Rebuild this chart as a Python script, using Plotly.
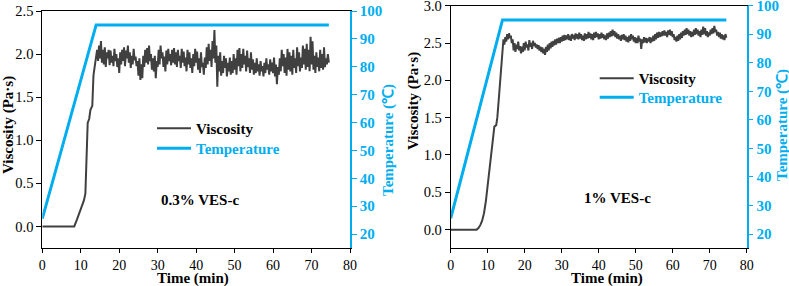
import numpy as np
import plotly.graph_objects as go

# ---------------- data ----------------
temp_time = [0, 14, 74.5]
temp_values = [25.5, 95, 95]

ramp_time_a = [0, 8.3, 9, 10, 10.8, 11.2, 11.5, 11.8, 12.2, 12.5, 13, 13.3, 13.6, 14]
ramp_visc_a = [0, 0, 0.08, 0.2, 0.3, 0.38, 0.8, 1.2, 1.25, 1.35, 1.4, 1.75, 1.85, 1.95]

plateau_visc_a = [
    2.05, 1.92, 2.10, 1.95, 2.15, 1.90, 2.05, 1.88, 2.08, 1.85, 2.02, 1.95, 2.05, 1.87, 2.04, 1.90, 1.98, 1.86, 2.06, 1.92,
    2.00, 1.85, 1.95, 1.78, 2.02, 1.88, 2.05, 1.92, 2.08, 1.86, 2.04, 1.95, 2.10, 1.90, 2.02, 1.84, 1.98, 1.88, 2.06, 1.93,
    1.97, 1.86, 1.92, 1.75, 1.95, 1.70, 1.88, 1.72, 1.98, 1.85, 2.05, 1.90, 2.07, 1.88, 2.10, 1.92, 2.00, 1.82, 1.95, 1.80,
    1.98, 1.72, 1.92, 1.85, 2.05, 1.88, 2.10, 1.95, 2.02, 1.85, 1.97, 1.80, 2.04, 1.88, 2.06, 1.92, 2.00, 1.87, 2.05, 1.90,
    2.07, 1.88, 2.02, 1.85, 2.05, 1.92, 1.98, 1.84, 2.06, 1.90, 2.03, 1.86, 1.96, 1.80, 2.05, 1.88, 2.02, 1.84, 1.95, 1.78,
    2.00, 1.86, 2.06, 1.90, 2.03, 1.82, 1.95, 1.78, 2.02, 1.85, 1.90, 1.76, 1.96, 1.84, 2.08, 1.88, 2.12, 1.92, 2.05, 1.85,
    2.15, 1.95, 2.28, 1.90, 2.10, 1.62, 1.98, 1.80, 2.02, 1.75, 1.92, 1.78, 1.98, 1.84, 1.95, 1.74, 1.90, 1.80, 1.96, 1.76,
    1.92, 1.78, 2.00, 1.82, 1.95, 1.76, 2.05, 1.86, 2.07, 1.80, 2.00, 1.84, 2.06, 1.88, 1.98, 1.80, 2.04, 1.85, 1.95, 1.78,
    2.02, 1.82, 1.94, 1.76, 1.90, 1.78, 1.95, 1.80, 1.88, 1.75, 1.92, 1.80, 1.86, 1.74, 1.90, 1.78, 1.95, 1.82, 1.88, 1.76,
    1.94, 1.80, 1.90, 1.78, 1.96, 1.74, 1.88, 1.65, 1.85, 1.76, 1.95, 1.80, 2.05, 1.86, 2.00, 1.78, 1.96, 1.75, 2.06, 1.82,
    2.02, 1.80, 1.98, 1.76, 2.05, 1.84, 1.95, 1.78, 2.08, 1.86, 2.02, 1.80, 1.96, 1.84, 2.10, 1.88, 2.06, 1.82, 2.12, 1.85,
    2.05, 1.80, 2.20, 1.88, 2.15, 1.82, 1.98, 1.78, 2.02, 1.85, 1.96, 1.80, 2.05, 1.84, 2.00, 1.82, 2.08, 1.85, 1.95, 1.88,
    2.00, 1.90,
]

ramp_time_b = [0, 7, 7.5, 8, 8.5, 9, 9.5, 10, 10.5, 11, 11.5, 11.8, 12.3, 12.6, 13, 13.4, 13.7, 14]
ramp_visc_b = [0, 0, 0.02, 0.06, 0.12, 0.22, 0.38, 0.6, 0.8, 1.0, 1.2, 1.38, 1.4, 1.5, 1.75, 2.0, 2.3, 2.5]

plateau_visc_b = [
    2.55, 2.48, 2.58, 2.52, 2.62, 2.55, 2.63, 2.57, 2.60, 2.50, 2.55, 2.40, 2.50, 2.38, 2.48, 2.42, 2.52, 2.40, 2.46, 2.36,
    2.45, 2.38, 2.50, 2.40, 2.52, 2.44, 2.48, 2.40, 2.54, 2.45, 2.50, 2.42, 2.53, 2.46, 2.50, 2.44, 2.48, 2.42, 2.47, 2.40,
    2.45, 2.38, 2.44, 2.36, 2.42, 2.34, 2.45, 2.38, 2.48, 2.40, 2.50, 2.43, 2.52, 2.45, 2.53, 2.47, 2.55, 2.48, 2.56, 2.50,
    2.57, 2.50, 2.58, 2.52, 2.60, 2.53, 2.61, 2.54, 2.60, 2.55, 2.62, 2.54, 2.60, 2.53, 2.62, 2.56, 2.61, 2.54, 2.63, 2.56,
    2.62, 2.55, 2.64, 2.56, 2.62, 2.54, 2.60, 2.53, 2.63, 2.55, 2.62, 2.56, 2.65, 2.57, 2.63, 2.55, 2.62, 2.54, 2.64, 2.57,
    2.65, 2.58, 2.63, 2.55, 2.62, 2.56, 2.64, 2.57, 2.62, 2.55, 2.60, 2.54, 2.63, 2.56, 2.64, 2.58, 2.66, 2.59, 2.68, 2.60,
    2.66, 2.58, 2.64, 2.56, 2.62, 2.55, 2.60, 2.53, 2.61, 2.55, 2.62, 2.54, 2.60, 2.52, 2.58, 2.51, 2.60, 2.53, 2.62, 2.55,
    2.60, 2.52, 2.58, 2.50, 2.57, 2.50, 2.60, 2.52, 2.56, 2.42, 2.55, 2.50, 2.58, 2.51, 2.57, 2.50, 2.56, 2.52, 2.58, 2.50,
    2.57, 2.52, 2.60, 2.53, 2.62, 2.55, 2.64, 2.57, 2.65, 2.58, 2.64, 2.59, 2.66, 2.60, 2.67, 2.60, 2.65, 2.58, 2.67, 2.61,
    2.68, 2.60, 2.66, 2.58, 2.62, 2.54, 2.58, 2.52, 2.60, 2.53, 2.62, 2.55, 2.64, 2.57, 2.66, 2.60, 2.68, 2.61, 2.70, 2.62,
    2.68, 2.60, 2.66, 2.58, 2.65, 2.59, 2.68, 2.61, 2.70, 2.62, 2.68, 2.60, 2.66, 2.58, 2.68, 2.61, 2.72, 2.62, 2.70, 2.60,
    2.66, 2.58, 2.64, 2.60, 2.68, 2.62, 2.70, 2.63, 2.73, 2.65, 2.68, 2.60, 2.65, 2.58, 2.64, 2.56, 2.62, 2.55, 2.60, 2.54,
    2.62, 2.57,
]

plateau_time = list(np.round(np.arange(14.25, 74.51, 0.25), 2))

labels = ["0.3% VES-c", "1% VES-c"]
x_ticks = [0, 10, 20, 30, 40, 50, 60, 70, 80]
temp_ticks = [20, 30, 40, 50, 60, 70, 80, 90, 100]

# ---------------- styling ----------------
W, H = 789, 286
CYAN = "#00AEEF"
GRAY = "#404040"
FONT = "Liberation Serif, Times New Roman, serif"


def px_x(p):
    return p / W


def px_y(p):
    return 1 - p / H


fig = go.Figure()

visc_a_t = ramp_time_a + plateau_time
visc_a_v = ramp_visc_a + plateau_visc_a
visc_b_t = ramp_time_b + plateau_time
visc_b_v = ramp_visc_b + plateau_visc_b

TEMP_NAME = f"<b><span style='color:{CYAN}'>Temperature</span></b>"
fig.add_trace(go.Scatter(x=visc_a_t, y=visc_a_v, mode="lines", name="<b>Viscosity</b>", showlegend=True,
                         line=dict(color=GRAY, width=2), xaxis="x", yaxis="y", legend="legend"))
fig.add_trace(go.Scatter(x=temp_time, y=temp_values, mode="lines", name=TEMP_NAME, showlegend=True,
                         line=dict(color=CYAN, width=3), xaxis="x", yaxis="y2", legend="legend2"))
fig.add_trace(go.Scatter(x=visc_b_t, y=visc_b_v, mode="lines", name="<b>Viscosity</b>", showlegend=True,
                         line=dict(color=GRAY, width=2), xaxis="x2", yaxis="y3", legend="legend3"))
fig.add_trace(go.Scatter(x=temp_time, y=temp_values, mode="lines", name=TEMP_NAME, showlegend=True,
                         line=dict(color=CYAN, width=3), xaxis="x2", yaxis="y4", legend="legend4"))

xdomA = [px_x(42.3), px_x(350)]
ydomA = [px_y(248), px_y(11)]
xdomB = [px_x(450.7), px_x(746.7)]
ydomB = [px_y(248.3), px_y(5.7)]

xaxis_common = dict(range=[0, 80], tickvals=x_ticks, ticks="outside", ticklen=4, tickcolor="black",
                    showline=True, linecolor="black", linewidth=1, mirror=True, showgrid=False,
                    zeroline=False, automargin=False, ticklabeloverflow="allow",
                    tickfont=dict(family=FONT, size=14, color="black"))
visc_common = dict(ticks="outside", ticklen=5, tickcolor="black", showline=True, linecolor="black",
                   linewidth=1, showgrid=False, zeroline=False, tickformat=".1f", dtick=0.5, tick0=0,
                   automargin=False, ticklabeloverflow="allow",
                   tickfont=dict(family=FONT, size=14.5, color="black"))
temp_common = dict(range=[15, 100], tickvals=temp_ticks, ticks="outside",
                   ticklen=5, tickcolor=CYAN, showline=True, linecolor=CYAN, linewidth=1.5, showgrid=False,
                   zeroline=False, side="right", automargin=False, ticklabeloverflow="allow",
                   tickfont=dict(family=FONT, size=15, color=CYAN, weight="bold"))


def legend_at(x, ytop):
    return dict(x=px_x(x), y=px_y(ytop), xanchor="left", yanchor="top", bgcolor="rgba(0,0,0,0)",
                font=dict(family=FONT, size=15, color="black"), itemwidth=34, visible=True)


def text_ann(text, x, y, size=15, color="black", angle=0):
    return dict(text=f"<b>{text}</b>", x=px_x(x), y=px_y(y), xref="paper", yref="paper",
                xanchor="center", yanchor="middle", showarrow=False, textangle=angle,
                font=dict(family=FONT, size=size, color=color))


fig.update_layout(
    width=W, height=H, margin=dict(l=0, r=0, t=0, b=0, pad=0, autoexpand=False),
    paper_bgcolor="white", plot_bgcolor="white", showlegend=True,
    xaxis=dict(domain=xdomA, anchor="y", **xaxis_common),
    yaxis=dict(domain=ydomA, anchor="x", range=[-0.25, 2.5], **visc_common),
    yaxis2=dict(anchor="x", overlaying="y", **temp_common),
    xaxis2=dict(domain=xdomB, anchor="y3", **xaxis_common),
    yaxis3=dict(domain=ydomB, anchor="x2", range=[-0.25, 3.0], **visc_common),
    yaxis4=dict(anchor="x2", overlaying="y3", **temp_common),
    legend=legend_at(152, 112),
    legend2=legend_at(152, 132),
    legend3=legend_at(594.7, 62),
    legend4=legend_at(594.7, 81),
    annotations=[
        text_ann(labels[0], 200, 200),
        text_ann(labels[1], 617, 198),
        text_ann("Time (min)", 193, 278.5),
        text_ann("Time (min)", 606.7, 278.5),
        text_ann("Viscosity (Pa·s)", 8, 125, angle=-90),
        text_ann("Viscosity (Pa·s)", 413, 101, angle=-90),
        text_ann("Temperature (℃)", 388, 140, color=CYAN, angle=-90),
        text_ann("Temperature (℃)", 782, 125, color=CYAN, angle=-90),
    ],
)

fig.write_html("out.html", config={"displayModeBar": False},
               post_script="document.body.style.margin='0px';")
